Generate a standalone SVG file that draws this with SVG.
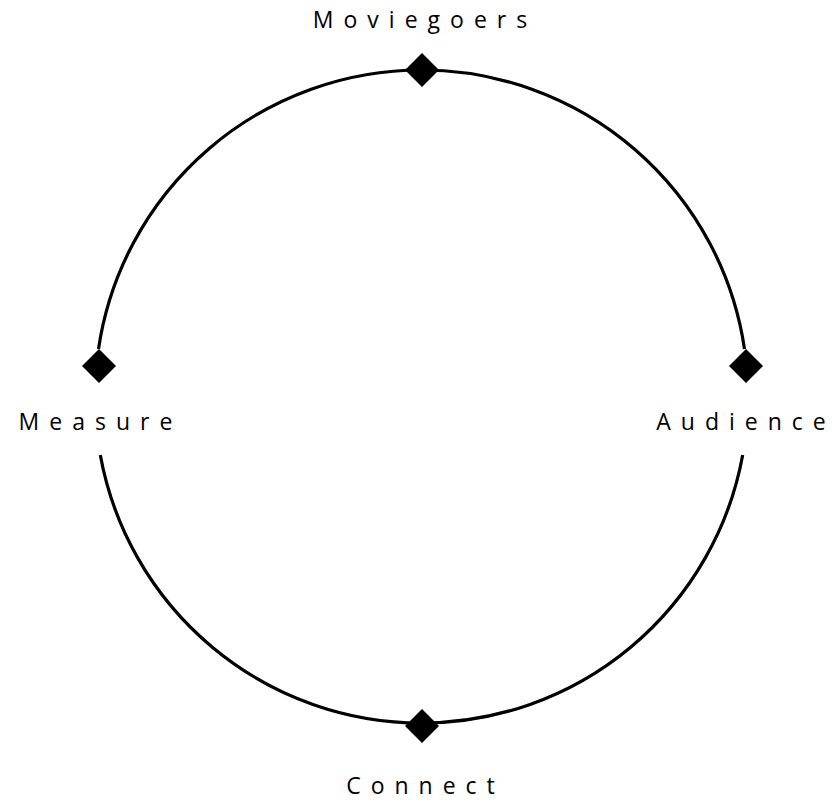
<svg xmlns="http://www.w3.org/2000/svg" width="835" height="807" viewBox="0 0 835 807">
  <defs>
    <style>
      .arc { fill: none; stroke: #000; stroke-width: 3.2; }
      .dia { fill: #000; }
      .lbl { font-family: "Open Sans", "Noto Sans", sans-serif; font-size: 23px; letter-spacing: 10px; fill: #000; text-anchor: middle; }
    </style>
    <polygon id="diamond" class="dia" points="0,-17 17,0 0,17 -17,0"/>
  </defs>
  <rect width="835" height="807" fill="#fff"/>
  <g id="connectors">
    <path class="arc" d="M 98.5 349 A 326.5 326.5 0 0 1 421.5 70 A 326.5 326.5 0 0 1 744.5 349"/>
    <path class="arc" d="M 742.7 455 A 326.5 326.5 0 0 1 421.5 723 A 326.5 326.5 0 0 1 100.3 455"/>
    <use href="#diamond" x="422" y="70"/>
    <use href="#diamond" x="746" y="366"/>
    <use href="#diamond" x="99" y="366"/>
    <use href="#diamond" x="422" y="726"/>
  </g>
  <g id="node-moviegoers">
    <text class="lbl" x="425" y="28">Moviegoers</text>
  </g>
  <g id="node-audience">
    <text class="lbl" x="746" y="430">Audience</text>
  </g>
  <g id="node-connect">
    <text class="lbl" x="425.5" y="794">Connect</text>
  </g>
  <g id="node-measure">
    <text class="lbl" x="100.5" y="430">Measure</text>
  </g>
</svg>
